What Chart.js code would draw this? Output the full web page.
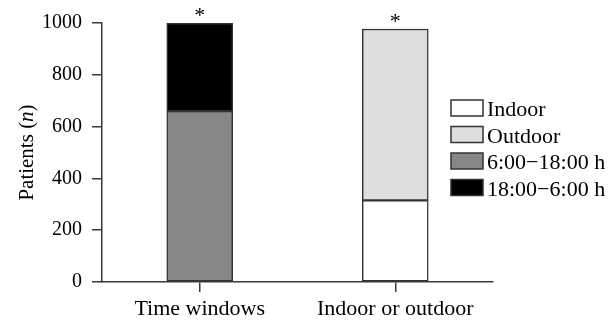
<!DOCTYPE html>
<html>
<head>
<meta charset="utf-8">
<script src="https://cdn.jsdelivr.net/npm/chart.js"></script>
<style>
  html, body { margin: 0; padding: 0; background: #fff; }
</style>
</head>
<body>
<canvas id="chart" width="616" height="320"></canvas>
<script>
// data
const categories = ['Time windows', 'Indoor or outdoor'];
const dayValues = [660, null];      // 6:00-18:00 h
const nightValues = [340, null];    // 18:00-6:00 h
const indoorValues = [null, 315];
const outdoorValues = [null, 662];
const yTicks = [0, 200, 400, 600, 800, 1000];
const markers = ['*', '*'];
const legendOrder = ['Indoor', 'Outdoor', '6:00\u221218:00 h', '18:00\u22126:00 h'];

const serif = 'Liberation Serif';
const axisColor = '#3a3a3a';

// asterisks above each stacked bar
const markerPlugin = {
  id: 'markers',
  afterDatasetsDraw(chart) {
    const ctx = chart.ctx;
    const xs = chart.scales.x, ys = chart.scales.y;
    ctx.save();
    ctx.font = '22px "' + serif + '"';
    ctx.fillStyle = '#000';
    ctx.textAlign = 'center';
    ctx.textBaseline = 'alphabetic';
    categories.forEach((c, i) => {
      let total = 0;
      chart.data.datasets.forEach(ds => { total += ds.data[i] || 0; });
      ctx.fillText(markers[i], xs.getPixelForValue(i), ys.getPixelForValue(total) - 1);
    });
    ctx.restore();
  }
};

// y title with italic n
const yTitlePlugin = {
  id: 'yTitle',
  afterDraw(chart) {
    const ctx = chart.ctx;
    const area = chart.chartArea;
    const parts = [['Patients (', 'normal'], ['n', 'italic'], [')', 'normal']];
    ctx.save();
    let total = 0;
    parts.forEach(p => {
      ctx.font = p[1] + ' 21px "' + serif + '"';
      total += ctx.measureText(p[0]).width;
    });
    ctx.translate(27, (area.top + area.bottom) / 2);
    ctx.rotate(-Math.PI / 2);
    ctx.fillStyle = '#000';
    ctx.textBaseline = 'middle';
    ctx.textAlign = 'left';
    let x = -total / 2;
    parts.forEach(p => {
      ctx.font = p[1] + ' 21px "' + serif + '"';
      ctx.fillText(p[0], x, 0);
      x += ctx.measureText(p[0]).width;
    });
    ctx.restore();
  }
};

// legend inside the plot, right side
const legendPlugin = {
  id: 'boxLegend',
  afterDraw(chart) {
    const ctx = chart.ctx;
    ctx.save();
    ctx.font = '22px "' + serif + '"';
    ctx.textBaseline = 'alphabetic';
    ctx.textAlign = 'left';
    legendOrder.forEach((name, i) => {
      const ds = chart.data.datasets.find(d => d.label === name);
      const base = 116 + i * 26.5;
      ctx.fillStyle = ds.backgroundColor;
      ctx.fillRect(451, base - 16, 32, 16);
      ctx.strokeStyle = '#333';
      ctx.lineWidth = 1.5;
      ctx.strokeRect(451, base - 16, 32, 16);
      ctx.fillStyle = '#000';
      ctx.fillText(name, 487, base);
    });
    ctx.restore();
  }
};

new Chart(document.getElementById('chart'), {
  type: 'bar',
  data: {
    labels: categories,
    datasets: [
      { label: '6:00\u221218:00 h', data: dayValues, backgroundColor: '#878787' },
      { label: '18:00\u22126:00 h', data: nightValues, backgroundColor: '#000000' },
      { label: 'Indoor', data: indoorValues, backgroundColor: '#ffffff' },
      { label: 'Outdoor', data: outdoorValues, backgroundColor: '#dedede' }
    ]
  },
  options: {
    responsive: false,
    animation: false,
    devicePixelRatio: 1,
    layout: { padding: { top: 23, right: 123, bottom: 0, left: 0 } },
    datasets: {
      bar: { barThickness: 66, borderColor: '#333', borderWidth: 1.5, borderSkipped: false }
    },
    plugins: { legend: { display: false }, tooltip: { enabled: false } },
    scales: {
      x: {
        stacked: true,
        grid: { offset: false, drawOnChartArea: false, drawTicks: true, tickLength: 10, color: axisColor, lineWidth: 1.5 },
        border: { color: axisColor, width: 1.5 },
        ticks: { color: '#000', font: { family: serif, size: 22 }, padding: 4, maxRotation: 0 },
        afterFit: s => { s.height = 38; }
      },
      y: {
        stacked: true,
        min: 0,
        max: 1000,
        afterBuildTicks: s => { s.ticks = yTicks.map(v => ({ value: v })); },
        grid: { drawOnChartArea: false, drawTicks: true, tickLength: 10, color: axisColor, lineWidth: 1.5 },
        border: { color: axisColor, width: 1.5 },
        ticks: { color: '#000', font: { family: serif, size: 20 }, padding: 10, callback: v => String(v) },
        afterFit: s => { s.width = 102; }
      }
    }
  },
  plugins: [markerPlugin, yTitlePlugin, legendPlugin]
});
</script>
</body>
</html>
